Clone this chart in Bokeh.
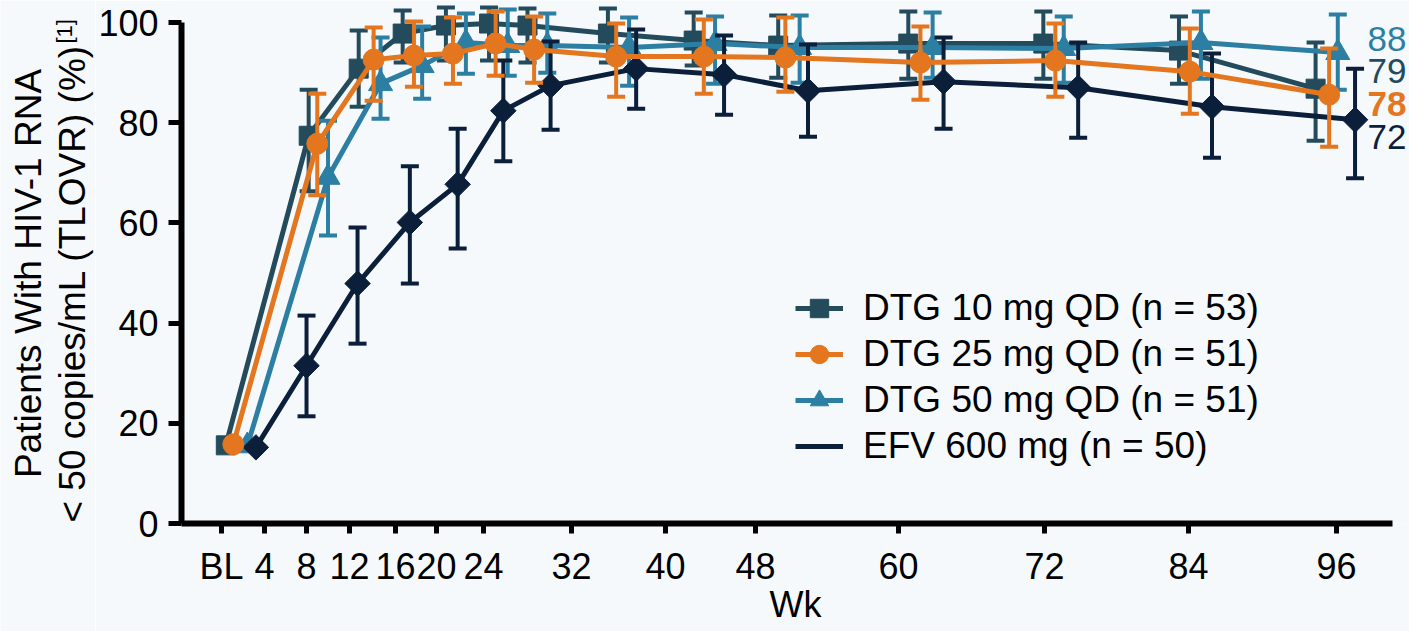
import numpy as np
from bokeh.plotting import figure
from bokeh.layouts import row
from bokeh.models import (Range1d, FixedTicker, Label, Legend, LegendItem,
                          ColumnDataSource, CustomJSTickFormatter)
from bokeh.embed import file_html
from bokeh.resources import INLINE

# ---------------- data ----------------
tick_weeks = [0, 4, 8, 12, 16, 20, 24, 32, 40, 48, 60, 72, 84, 96]
tick_labels = ["BL", "4", "8", "12", "16", "20", "24", "32", "40", "48", "60", "72", "84", "96"]
# where each printed week tick sits on the (slightly non-uniform) axis, in axis units
tick_axis = [0.0, 3.70, 7.32, 11.02, 14.98, 18.51, 22.56, 30.13, 38.23, 45.98, 58.29, 70.86, 83.26, 96.0]
y_ticks = [0, 20, 40, 60, 80, 100]

dtg10_wk = [0.4, 8.2, 12.8, 16.7, 20.8, 24.5, 28.0, 35.1, 42.5, 49.9, 60.8, 71.9, 83.2, 94.3]
dtg10_pct = [15.6, 77.4, 90.8, 97.8, 99.4, 99.8, 99.4, 97.8, 96.4, 95.4, 95.8, 95.8, 94.4, 86.8]
dtg10_lo = [np.nan, 66.3, 83.2, 92.0, 92.4, 92.4, 92.0, 92.0, 91.4, 89.0, 88.8, 88.8, 87.8, 76.4]
dtg10_hi = [np.nan, 86.6, 98.4, 102.4, 103.0, 103.0, 102.8, 102.8, 102.0, 101.4, 102.2, 102.2, 101.2, 96.0]

dtg25_wk = [1.1, 9.0, 14.1, 17.8, 21.4, 25.1, 28.6, 35.8, 43.4, 50.5, 61.8, 72.9, 84.1, 95.4]
dtg25_pct = [15.8, 75.8, 92.6, 93.4, 93.8, 95.8, 94.6, 93.2, 93.2, 93.0, 92.0, 92.4, 90.2, 85.6]
dtg25_lo = [np.nan, 65.5, 84.4, 87.2, 87.8, 89.4, 88.0, 85.2, 85.8, 86.2, 84.6, 85.2, 81.8, 75.2]
dtg25_hi = [np.nan, 85.8, 99.0, 100.2, 101.0, 102.2, 101.2, 99.8, 100.6, 101.0, 99.2, 99.8, 98.8, 94.8]

dtg50_wk = [2.4, 10.0, 14.7, 18.6, 22.5, 26.2, 29.8, 36.9, 44.4, 51.7, 62.8, 73.6, 85.0, 96.1]
dtg50_pct = [15.5, 69.1, 87.8, 91.4, 96.0, 95.4, 95.4, 95.0, 95.8, 95.0, 95.0, 94.8, 96.0, 94.0]
dtg50_lo = [np.nan, 57.5, 80.8, 84.8, 89.8, 89.4, 90.0, 87.4, 87.8, 88.0, 89.0, 88.0, 88.8, 86.6]
dtg50_hi = [np.nan, 80.4, 97.0, 99.2, 101.8, 102.6, 101.8, 101.0, 101.2, 101.4, 102.0, 101.2, 102.2, 101.6]

efv_wk = [3.2, 8.0, 12.7, 17.4, 21.8, 25.8, 30.1, 37.5, 45.2, 52.4, 63.7, 74.8, 85.9, 97.5]
efv_pct = [15.2, 31.5, 47.9, 60.1, 67.7, 82.4, 87.4, 90.8, 89.6, 86.4, 88.2, 87.0, 83.2, 80.6]
efv_lo = [np.nan, 21.4, 35.9, 47.9, 54.9, 72.3, 78.6, 82.8, 81.6, 77.2, 78.8, 77.0, 73.0, 68.9]
efv_hi = [np.nan, 41.5, 59.1, 71.3, 78.8, 92.4, 96.2, 98.6, 97.4, 95.6, 97.0, 96.0, 93.8, 90.8]

series_names = ["DTG 10 mg QD (n = 53)", "DTG 25 mg QD (n = 51)",
                "DTG 50 mg QD (n = 51)", "EFV 600 mg (n = 50)"]
end_labels = ["88", "79", "78", "72"]
y_title_1 = "Patients With HIV-1 RNA"
y_title_2 = "< 50 copies/mL (TLOVR) (%)"
y_title_ref = "[1]"
x_title = "Wk"

# ---------------- styles ----------------
C10, C25, C50, CEFV = "#244b5c", "#e3761f", "#2c7fa3", "#0b1f3a"
FONT = "Liberation Sans"
BG = "#f5f9fb"
W, H = 1409, 631
TITLE_W = 95          # strip that holds the vertical y-axis title
FRAME_LEFT = 181      # page x of the y axis


def to_axis(weeks):
    w = np.asarray(weeks, dtype=float)
    tw = np.asarray(tick_weeks, dtype=float)
    ta = np.asarray(tick_axis, dtype=float)
    out = np.interp(w, tw, ta)
    slope = (ta[-1] - ta[-2]) / (tw[-1] - tw[-2])
    return np.where(w > tw[-1], ta[-1] + (w - tw[-1]) * slope, out)


# ---------------- y-title strip ----------------
t = figure(width=TITLE_W, height=H, x_range=Range1d(0, TITLE_W), y_range=Range1d(0, H),
           output_backend="svg", toolbar_location=None, title=None,
           x_axis_location=None, y_axis_location=None,
           min_border_left=0, min_border_right=0, min_border_top=0, min_border_bottom=0)
t.background_fill_color = BG
t.border_fill_color = BG
t.outline_line_color = None
t.grid.visible = False
t.add_layout(Label(x=28, y=H - 273, x_units="screen", y_units="screen", angle=np.pi / 2,
                   text=y_title_1, text_font=FONT, text_font_size="37px", text_color="black",
                   text_align="center", text_baseline="alphabetic"))
t.add_layout(Label(x=72, y=H - 44, x_units="screen", y_units="screen", angle=np.pi / 2,
                   text=y_title_2, text_font=FONT, text_font_size="37px", text_color="black",
                   text_align="right", text_baseline="alphabetic"))
t.add_layout(Label(x=64, y=H - 43, x_units="screen", y_units="screen", angle=np.pi / 2,
                   text=y_title_ref, text_font=FONT, text_font_size="22px", text_color="black",
                   text_align="left", text_baseline="alphabetic"))

# ---------------- main chart ----------------
p = figure(width=W - TITLE_W, height=H, x_range=Range1d(-3.444, 102.28), y_range=Range1d(0, 104.4),
           output_backend="svg", toolbar_location=None, title=None,
           min_border_left=FRAME_LEFT - TITLE_W, min_border_right=0, min_border_top=0,
           min_border_bottom=108)
p.background_fill_color = BG
p.border_fill_color = BG
p.outline_line_color = None
p.xgrid.visible = False
p.ygrid.visible = False

# keep each figure's own frame (no frame alignment across the row)
t.frame_align = False
p.frame_align = False

for ax in (p.xaxis[0], p.yaxis[0]):
    ax.axis_line_width = 6
    ax.axis_line_color = "black"
    ax.major_tick_line_width = 5
    ax.major_tick_line_color = "black"
    ax.major_tick_in = 0
    ax.minor_tick_line_color = None
    ax.major_label_text_font = FONT
    ax.major_label_text_font_size = "36px"
    ax.major_label_text_color = "black"
    ax.axis_label_text_font = FONT
    ax.axis_label_text_font_style = "normal"
    ax.axis_label_text_color = "black"

p.xaxis.ticker = FixedTicker(ticks=tick_axis)
p.xaxis.formatter = CustomJSTickFormatter(
    args=dict(pos=tick_axis, lab=tick_labels),
    code="const i = pos.findIndex(v => Math.abs(v - tick) < 1e-6); return i >= 0 ? lab[i] : '';")
p.xaxis.bounds = (-3.444, 100.82)
p.xaxis.major_tick_out = 10
p.xaxis.major_label_standoff = 12
p.xaxis.axis_label = x_title
p.xaxis.axis_label_text_font_size = "36px"
p.xaxis.axis_label_standoff = -6

p.yaxis.ticker = FixedTicker(ticks=y_ticks)
p.yaxis.bounds = (0, 100)
p.yaxis.major_tick_out = 13
p.yaxis.major_label_standoff = 10

renderers = {}


def draw(key, wk, pct, lo, hi, color, marker, size, angle=0.0):
    x = to_axis(wk)
    src = ColumnDataSource(dict(x=x, y=pct, lo=lo, hi=hi))
    p.segment(x0="x", y0="lo", x1="x", y1="hi", source=src, line_color=color, line_width=4)
    p.scatter(x="x", y="lo", source=src, marker="dash", size=18, line_color=color, line_width=4)
    p.scatter(x="x", y="hi", source=src, marker="dash", size=18, line_color=color, line_width=4)
    ln = p.line(x="x", y="y", source=src, line_color=color, line_width=5)
    sc = p.scatter(x="x", y="y", source=src, marker=marker, size=size, angle=angle,
                   fill_color=color, line_color=color, line_width=1)
    renderers[key] = (ln, sc)


draw("10", dtg10_wk, dtg10_pct, dtg10_lo, dtg10_hi, C10, "square", 19)
draw("50", dtg50_wk, dtg50_pct, dtg50_lo, dtg50_hi, C50, "triangle", 24)
draw("efv", efv_wk, efv_pct, efv_lo, efv_hi, CEFV, "square", 18, angle=np.pi / 4)
draw("25", dtg25_wk, dtg25_pct, dtg25_lo, dtg25_hi, C25, "circle", 21)

legend = Legend(items=[
    LegendItem(label=series_names[0], renderers=list(renderers["10"])),
    LegendItem(label=series_names[1], renderers=list(renderers["25"])),
    LegendItem(label=series_names[2], renderers=list(renderers["50"])),
    LegendItem(label=series_names[3], renderers=[renderers["efv"][0]]),
], location=(614, 54))
legend.background_fill_alpha = 0
legend.border_line_color = None
legend.padding = 0
legend.margin = 0
legend.spacing = 0
legend.glyph_width = 48
legend.glyph_height = 46
legend.label_height = 46
legend.label_standoff = 20
legend.label_text_font = FONT
legend.label_text_font_size = "37px"
legend.label_text_color = "black"
p.add_layout(legend)

# end-of-study numbers at the right
end_colors = [C50, C10, C25, CEFV]
end_styles = ["normal", "normal", "bold", "normal"]
for i, (txt, col, sty) in enumerate(zip(end_labels, end_colors, end_styles)):
    p.add_layout(Label(x=1186, y=485 - i * 32.7, x_units="screen", y_units="screen", text=txt,
                       text_color=col, text_font=FONT, text_font_size="35px", text_font_style=sty,
                       text_align="left", text_baseline="middle"))

layout = row(t, p, spacing=0)
open("out.html", "w").write(file_html(layout, INLINE))
